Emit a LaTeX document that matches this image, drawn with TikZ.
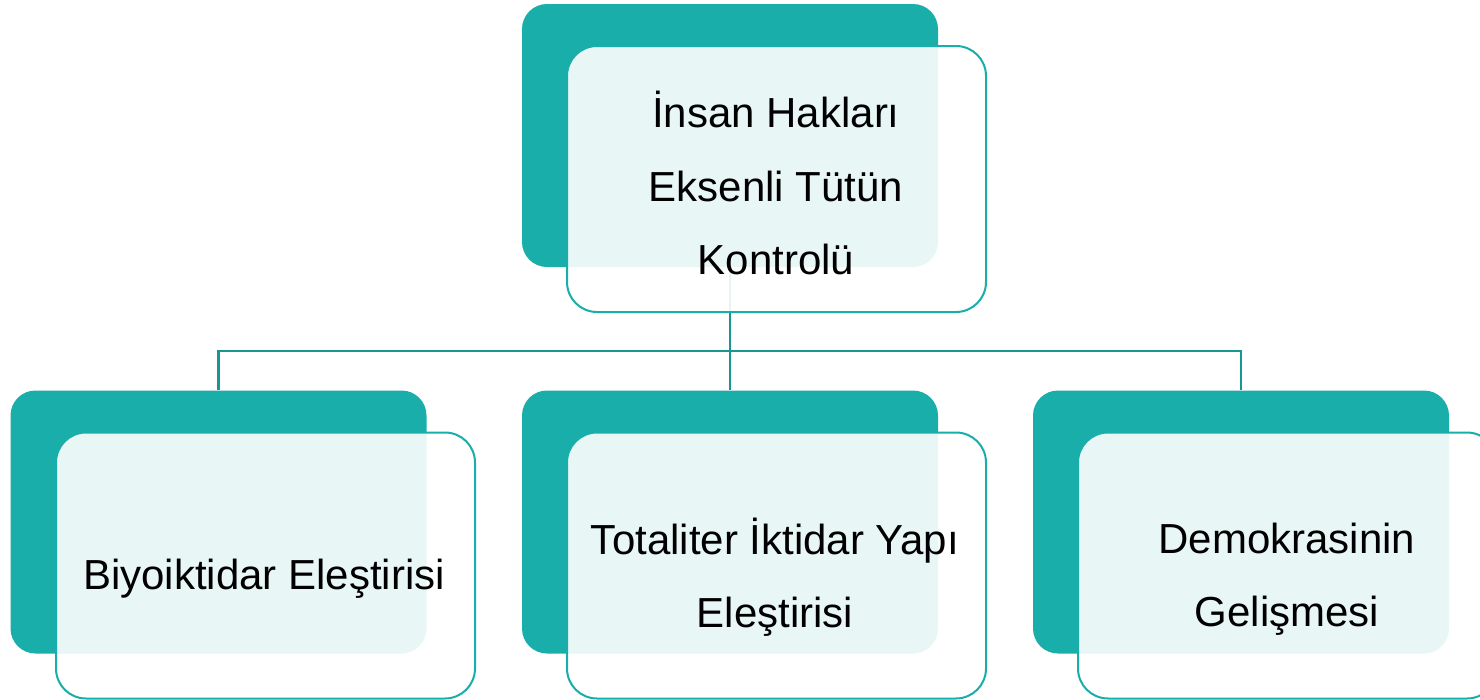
\documentclass[tikz,border=0pt]{standalone}
\usepackage{fontspec}
\setmainfont{Liberation Sans}
\definecolor{tealfill}{RGB}{25,174,169}
\definecolor{linkcol}{RGB}{24,150,145}
\tikzset{
  backbox/.style={rectangle, rounded corners=25pt, fill=tealfill, minimum width=416pt, minimum height=263pt, inner sep=0pt},
  frontbox/.style={rectangle, rounded corners=30pt, draw=tealfill, line width=2pt, fill=white, fill opacity=0.9, minimum width=419pt, minimum height=266pt, inner sep=0pt},
  label/.style={inner sep=0pt, align=center, font=\fontsize{42}{73.5}\selectfont},
  link/.style={draw=linkcol, line width=2.5pt}
}
\begin{document}
\begin{tikzpicture}[x=1pt, y=-1pt]
\clip (0,0) rectangle (1480,699);
\fill[white] (0,0) rectangle (1480,699);
% back boxes
\node[backbox] (topback) at (730,135.5){};
\node[backbox] (leftback) at (218.5,522){};
\node[backbox] (midback) at (730,522){};
\node[backbox] (rightback) at (1241,522){};
% connectors
\coordinate (bus) at (730,351);
\draw[link] (topback.south) -- (midback.north);
\draw[link] (leftback.north) |- (bus) -| (rightback.north);
% front boxes
\node[frontbox] (topfront) at (776.5,179){};
\node[frontbox] (leftfront) at (265.5,565.5){};
\node[frontbox] (midfront) at (776.5,565.5){};
\node[frontbox] (rightfront) at (1287.5,565.5){};
% texts
\node[label] (toptext) at (776,183){İnsan Hakları\\Eksenli Tütün\\Kontrolü};
\node[label] (lefttext) at (264,579){Biyoiktidar Eleştirisi};
\node[label] (midtext) at (775,577){Totaliter İktidar Yapı\\Eleştirisi};
\node[label] (righttext) at (1287,579){Demokrasinin\\Gelişmesi};
\end{tikzpicture}
\end{document}
